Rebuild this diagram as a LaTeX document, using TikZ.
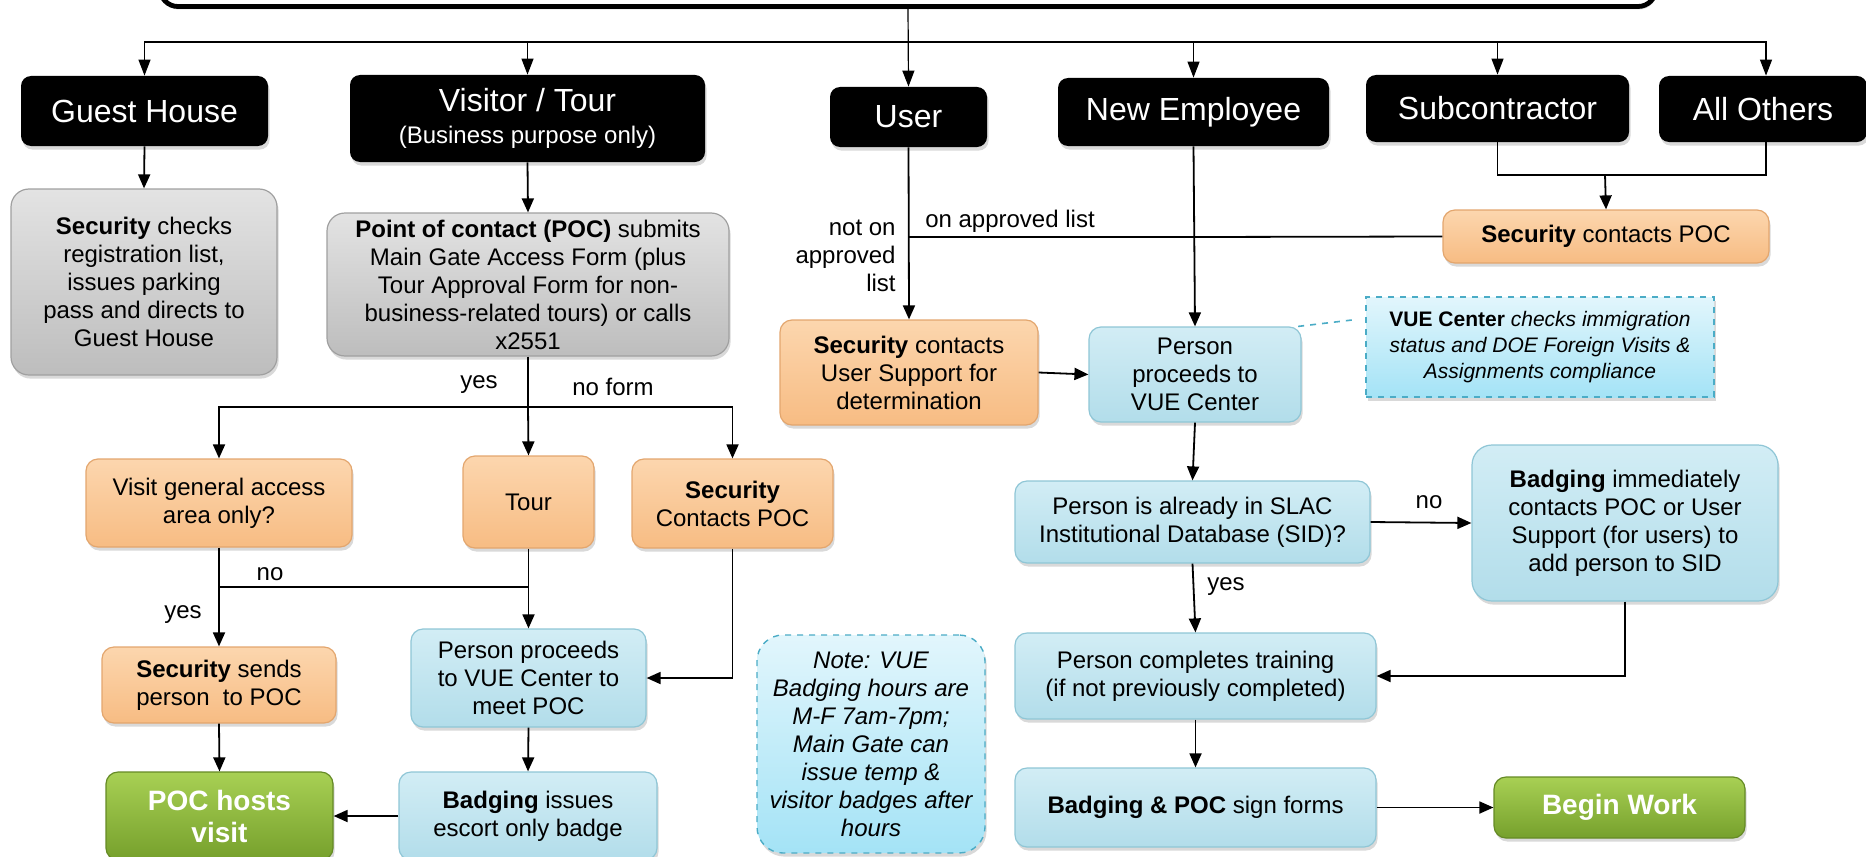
\documentclass[tikz,border=0pt]{standalone}
\usepackage{fontspec}
\setmainfont{Liberation Sans}
\usetikzlibrary{arrows.meta,shadows,calc}
\definecolor{orTop}{HTML}{FCD6AE}
\definecolor{orBot}{HTML}{F7BC83}
\definecolor{orLine}{HTML}{E3A66E}
\definecolor{blTop}{HTML}{D2EDF5}
\definecolor{blBot}{HTML}{B2DDEA}
\definecolor{blLine}{HTML}{8FC6D6}
\definecolor{grTop}{HTML}{E3E3E3}
\definecolor{grBot}{HTML}{BDBDBD}
\definecolor{grLine}{HTML}{A0A0A0}
\definecolor{gnTop}{HTML}{A8D054}
\definecolor{gnBot}{HTML}{76A02C}
\definecolor{gnLine}{HTML}{658A25}
\definecolor{ntTop}{HTML}{E2F6FC}
\definecolor{ntBot}{HTML}{A4E3F6}
\definecolor{ntLine}{HTML}{4BACC6}
\begin{document}
\begin{tikzpicture}[x=0.5pt,y=-0.5pt,
  box/.style={rounded corners=6pt, inner sep=1pt, align=center,
    font=\fontsize{12}{14}\selectfont,
    drop shadow={shadow xshift=0.8pt, shadow yshift=-1.8pt, opacity=0.3}},
  blackbox/.style={box, fill=black, text=white, rounded corners=5pt,
    font=\fontsize{16}{18}\selectfont},
  graybox/.style={box, top color=grTop, bottom color=grBot, draw=grLine, line width=0.6pt, rounded corners=9pt},
  orangebox/.style={box, top color=orTop, bottom color=orBot, draw=orLine, line width=0.6pt},
  bluebox/.style={box, top color=blTop, bottom color=blBot, draw=blLine, line width=0.6pt},
  greenbox/.style={box, top color=gnTop, bottom color=gnBot, draw=gnLine, line width=0.6pt,
    text=white, font=\fontsize{14}{16}\selectfont\bfseries},
  notebox/.style={box, top color=ntTop, bottom color=ntBot, draw=ntLine, dashed, line width=0.7pt,
    font=\fontsize{12}{14}\selectfont\itshape},
  lbl/.style={font=\fontsize{12}{14}\selectfont, inner sep=0pt},
  arr/.style={-{Triangle[width=6pt,length=7pt]}, line width=0.9pt},
  tarr/.style={-{Triangle[width=6pt,length=8pt]}, line width=0.6pt},
  ln/.style={line width=0.9pt},
  tln/.style={line width=0.6pt}
]
\useasboundingbox (0,0) rectangle (1866,856);
\clip (0,0) rectangle (1866,856);

% title box (only its lower edge is in view)
\node[draw, line width=2.4pt, rounded corners=9pt, fill=white, minimum width=748pt, minimum height=39pt,
  drop shadow={shadow xshift=0.5pt, shadow yshift=-1.5pt, opacity=0.35}] (title) at (908,-32.5) {};

% top row
\node[blackbox, minimum width=123.5pt, minimum height=35pt] (gh) at (144.5,111) {Guest House};
\node[blackbox, minimum width=177.5pt, minimum height=43.5pt] (vis) at (527.5,118.5)
  {Visitor / Tour\\[-2pt]{\fontsize{12}{14}\selectfont (Business purpose only)}};
\node[blackbox, minimum width=78.5pt, minimum height=30pt] (user) at (908.5,117) {User};
\node[blackbox, minimum width=135.5pt, minimum height=34pt] (ne) at (1193.5,112) {New Employee};
\node[blackbox, minimum width=131.5pt, minimum height=33.5pt] (sub) at (1497.5,108.5) {Subcontractor};
\node[blackbox, minimum width=104pt, minimum height=33pt] (oth) at (1763,109) {All Others};

% second level
\node[graybox, minimum width=133pt, minimum height=93pt] (sec1) at (144,282)
  {\textbf{Security} checks\\registration list,\\issues parking\\pass and directs to\\Guest House};
\node[graybox, minimum width=201pt, minimum height=71.5pt] (poc) at (528,284.5)
  {\textbf{Point of contact (POC)} submits\\Main Gate Access Form (plus\\Tour Approval Form for non-\\business-related tours) or calls\\x2551};
\node[orangebox, minimum width=129pt, minimum height=52.5pt] (secus) at (909,372.5)
  {\textbf{Security} contacts\\User Support for\\determination};
\node[orangebox, minimum width=163pt, minimum height=26.5pt] (secpoc) at (1606,236.5)
  {\textbf{Security} contacts POC};
\node[bluebox, minimum width=106pt, minimum height=47.5pt] (pvue) at (1195,374.5)
  {Person\\proceeds to\\VUE Center};
\node[notebox, rounded corners=0pt, minimum width=174pt, minimum height=50pt,
  font=\fontsize{10.5}{13}\selectfont] (vuenote) at (1540,347)
  {\textbf{VUE Center} \textit{checks immigration}\\\textit{status and DOE Foreign Visits \&}\\\textit{Assignments compliance}};

% visitor branch
\node[orangebox, minimum width=133pt, minimum height=44pt] (visit) at (219,503)
  {Visit general access\\area only?};
\node[orangebox, minimum width=65.5pt, minimum height=46pt] (tour) at (528.5,502) {Tour};
\node[orangebox, minimum width=100.5pt, minimum height=44.5pt] (secpoc2) at (732.5,503.5)
  {\textbf{Security}\\Contacts POC};
\node[orangebox, minimum width=117pt, minimum height=38pt] (secsend) at (219,685)
  {\textbf{Security} sends\\person~ to POC};
\node[bluebox, minimum width=117.5pt, minimum height=49pt] (pproc) at (528.5,678)
  {Person proceeds\\to VUE Center to\\meet POC};
\node[greenbox, minimum width=113.5pt, minimum height=44pt] (hosts) at (219.5,816)
  {POC hosts\\visit};
\node[bluebox, minimum width=129pt, minimum height=44pt] (badge1) at (528,816)
  {\textbf{Badging} issues\\escort only badge};
\node[notebox, rounded corners=13pt, minimum width=114pt, minimum height=109pt] (hoursnote) at (871,744)
  {Note: VUE\\Badging hours are\\M-F 7am-7pm;\\Main Gate can\\issue temp \&\\visitor badges after\\hours};

% employee branch
\node[bluebox, minimum width=177.5pt, minimum height=41pt] (sid) at (1192.5,522)
  {Person is already in SLAC\\Institutional Database (SID)?};
\node[bluebox, rounded corners=10pt, minimum width=153pt, minimum height=78pt] (badimm) at (1625,523)
  {\textbf{Badging} immediately\\contacts POC or User\\Support (for users) to\\add person to SID};
\node[bluebox, minimum width=180.5pt, minimum height=43pt] (train) at (1195.5,676)
  {Person completes training\\(if not previously completed)};
\node[bluebox, minimum width=180.5pt, minimum height=39.5pt] (bpoc) at (1195.5,807.5)
  {\textbf{Badging \& POC} sign forms};
\node[greenbox, minimum width=125.5pt, minimum height=30.5pt] (begin) at (1619.5,807.5) {Begin Work};

% labels
\node[lbl, align=right, anchor=east] (lnot) at (896,256) {not on\\approved\\list};
\node[lbl] (lon) at (1010,221) {on approved list};
\node[lbl] (lyes1) at (479,385) {yes};
\node[lbl] (lnoform) at (613,387) {no form};
\node[lbl] (lno1) at (270,574) {no};
\node[lbl] (lyes2) at (183,615) {yes};
\node[lbl] (lno2) at (1429,502) {no};
\node[lbl] (lyes3) at (1226,587) {yes};

% junction coordinates
\coordinate (bus) at (908,42);
\coordinate (split) at (528,407);
\coordinate (nojoin) at (219,587);
\coordinate (uj) at (908,237);
\coordinate (nj) at (1195,237);
\coordinate (sj) at (1605,175);
\coordinate (vc) at (1352,320);

% top connectors
\draw[tarr] (title.south) -- (user.north);
\draw[tarr] (bus) -| (gh.north);
\draw[tarr] (bus) -| (vis.north);
\draw[tarr] (bus) -| (ne.north);
\draw[tarr] (bus) -| (sub.north);
\draw[tarr] (bus) -| ([xshift=1.5pt]oth.north);

% visitor side
\draw[arr] (gh.south) -- (sec1.north);
\draw[arr] (vis.south) -- (poc.north);
\draw[ln] (poc.south) -- (split);
\draw[arr] (split) -| (visit.north);
\draw[arr] (split) -- (tour.north);
\draw[arr] (split) -| (secpoc2.north);
\draw[arr] (visit.south) -- (secsend.north);
\draw[ln] (nojoin) -- (nojoin -| tour.south);
\draw[arr] (tour.south) -- (pproc.north);
\draw[arr] (secpoc2.south) |- (pproc.east);
\draw[arr] (secsend.south) -- (hosts.north);
\draw[arr] (pproc.south) -- (badge1.north);
\draw[arr] (badge1.west) -- (hosts.east);

% user / employee side
\draw[arr] (user.south) -- (secus.north);
\draw[ln] (uj) -- (nj);
\draw[arr] (ne.south) -- (pvue.north);
\draw[ln] (secpoc.west) -- (nj);
\draw[ln] (sub.south) |- (sj);
\draw[ln] ([xshift=1.5pt]oth.south) |- (sj);
\draw[arr] (sj) -- (secpoc.north);
\draw[arr] (secus.east) -- (pvue.west);
\draw[dashed, draw=ntLine, line width=0.8pt] (pvue.25) -- (vc);
\draw[arr] (pvue.south) -- (sid.north);
\draw[arr] (sid.east) -- (badimm.west);
\draw[arr] (sid.south) -- (train.north);
\draw[arr] (badimm.south) |- (train.east);
\draw[arr] (train.south) -- (bpoc.north);
\draw[arr] (bpoc.east) -- (begin.west);
\end{tikzpicture}
\end{document}
